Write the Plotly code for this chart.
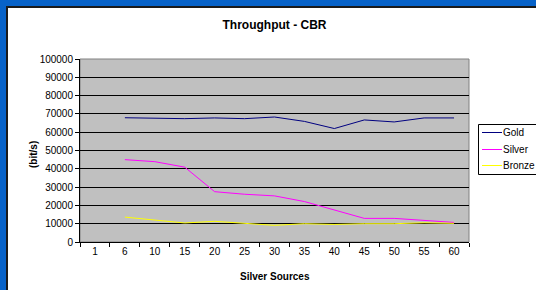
import plotly.graph_objects as go

categories = ["1", "6", "10", "15", "20", "25", "30", "35", "40", "45", "50", "55", "60"]
x_vals = categories[1:]
gold = [67900, 67700, 67400, 67800, 67400, 68300, 65900, 62000, 66700, 65600, 67800, 67800]
silver = [45000, 43900, 40900, 27500, 26100, 25200, 22100, 17600, 12900, 12900, 11800, 10700]
bronze = [13600, 11800, 10400, 11300, 10400, 9100, 10000, 9600, 10000, 10000, 10500, 10200]
series_names = ["Gold", "Silver", "Bronze"]
series_colors = ["#000080", "#FF00FF", "#FFFF00"]
y_ticks = list(range(0, 100001, 10000))

W, H = 536, 290
L, R, T, B = 80, 469, 59, 242
pw, ph = R - L, B - T

def px(x):
    return (x - L) / pw

def py(y):
    return (B - y) / ph

fig = go.Figure()
for name, vals, col in zip(series_names, [gold, silver, bronze], series_colors):
    fig.add_trace(go.Scatter(x=x_vals, y=vals, name=name, mode="lines",
                             line=dict(color=col, width=1)))

font = "Liberation Sans, Arial, sans-serif"

shapes = [
    dict(type="rect", xref="paper", yref="paper", x0=0, x1=1, y0=0, y1=1,
         line=dict(color="#808080", width=1), layer="below"),
    # blue frame strips
    dict(type="rect", xref="paper", yref="paper", x0=px(-2), x1=px(6), y0=py(-2), y1=py(H + 2),
         fillcolor="#0762C8", line=dict(width=0)),
    dict(type="rect", xref="paper", yref="paper", x0=px(-2), x1=px(W + 2), y0=py(6), y1=py(-2),
         fillcolor="#0762C8", line=dict(width=0)),
    dict(type="rect", xref="paper", yref="paper", x0=px(6), x1=px(8), y0=py(6), y1=py(H + 2),
         fillcolor="#1a1a1a", line=dict(width=0)),
    dict(type="rect", xref="paper", yref="paper", x0=px(6), x1=px(W + 2), y0=py(8), y1=py(6),
         fillcolor="#1a1a1a", line=dict(width=0)),
    # legend box
    dict(type="rect", xref="paper", yref="paper", x0=px(478.5), x1=px(W + 10), y0=py(174.5), y1=py(124.5),
         fillcolor="white", line=dict(color="black", width=1)),
]
annotations = [
    dict(text="<b>Silver Sources</b>", xref="paper", yref="paper",
         x=px(274.5), y=py(276), xanchor="center", yanchor="middle",
         showarrow=False, font=dict(size=10, family=font)),
    dict(text="<b>(bit/s)</b>", xref="paper", yref="paper",
         x=px(33), y=py(155), xanchor="center", yanchor="middle",
         textangle=-90, showarrow=False, font=dict(size=10, family=font)),
]
legend_y = [132.5, 149.5, 165.5]
for name, col, ly in zip(series_names, series_colors, legend_y):
    shapes.append(dict(type="line", xref="paper", yref="paper", x0=px(482), x1=px(502),
                       y0=py(ly), y1=py(ly), line=dict(color=col, width=1)))
    annotations.append(dict(text=name, xref="paper", yref="paper", x=px(501.5), y=py(ly),
                            xanchor="left", yanchor="middle", showarrow=False,
                            borderpad=0, font=dict(size=10, family=font)))

fig.update_layout(
    width=W, height=H,
    margin=dict(l=L, r=W - R, t=T, b=H - B, pad=0, autoexpand=False),
    paper_bgcolor="white",
    plot_bgcolor="#C0C0C0",
    font=dict(family=font, size=10, color="black"),
    title=dict(text="<b>Throughput - CBR</b>", x=274.5 / W, xanchor="center",
               y=1 - 25 / H, yanchor="middle", font=dict(size=12, family=font)),
    showlegend=False,
    xaxis=dict(type="category", categoryorder="array", categoryarray=categories,
               range=[-0.5, len(categories) - 0.5],
               tickson="boundaries", ticks="outside", ticklen=4, tickcolor="black",
               showline=True, linecolor="black", linewidth=1, showgrid=False,
               zeroline=False, tickfont=dict(size=10), fixedrange=True),
    yaxis=dict(range=[0, 100000], tickvals=y_ticks, ticks="outside", ticklen=4,
               tickcolor="black", showline=True, linecolor="black", linewidth=1,
               showgrid=True, gridcolor="black", gridwidth=1, zeroline=False,
               tickfont=dict(size=10), tickformat="d", fixedrange=True),
    shapes=shapes,
    annotations=annotations,
)

fig.write_html("out.html", config={"displayModeBar": False},
               post_script="document.body.style.margin='0';document.body.style.overflow='hidden';")
